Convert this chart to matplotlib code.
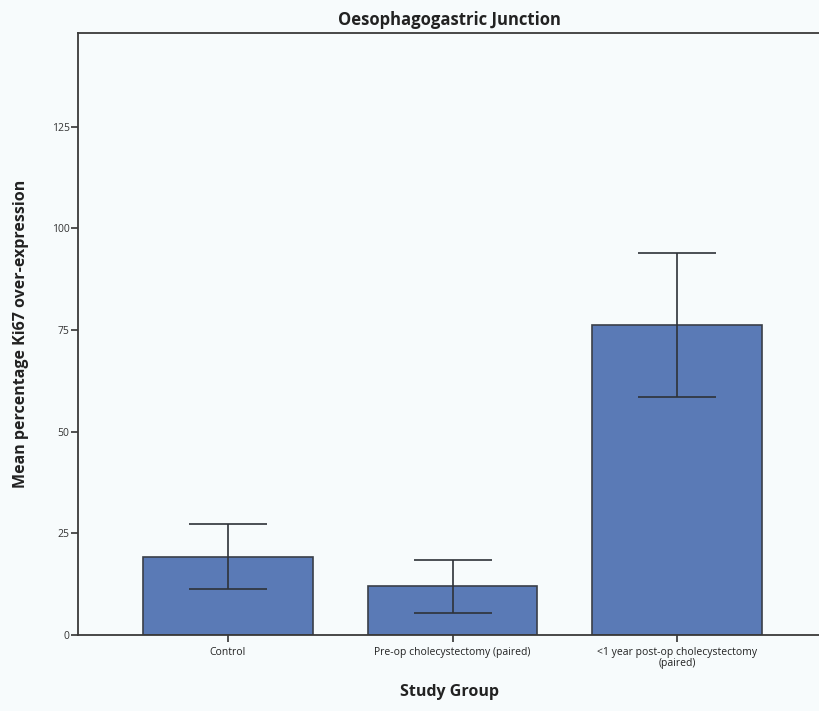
import numpy as np
from matplotlib import pyplot as plt

groups = ['Control', 'Pre-op cholecystectomy (paired)', '<1 year post-op cholecystectomy\n(paired)']
means  = [19.2, 12.0, 76.3]
errs   = [8.0, 6.5, 17.7]
yticks = [0, 25, 50, 75, 100, 125]

plt.rcParams['font.family'] = ['Open Sans', 'DejaVu Sans']

fig = plt.figure(figsize=(8.2, 7.11), dpi=100, facecolor='#f7fbfc')
ax = fig.add_axes([0.0951, 0.1069, 0.905, 0.8467], facecolor='#f7fbfc')

x = np.arange(len(groups))
ax.bar(x, means, width=0.755, color='#5a7ab6', edgecolor='#3a3f48', linewidth=1.2, zorder=2)
ax.errorbar(x, means, yerr=errs, fmt='none', ecolor='#2e3238', elinewidth=1.2,
            capsize=28, capthick=1.2, zorder=3)

ax.set_xlim(-0.668, 2.637)
ax.set_ylim(0, 148)
ax.set_yticks(yticks)
ax.set_yticklabels([str(v) for v in yticks], fontsize=7.5, color='#333333')
ax.set_xticks(x)
ax.set_xticklabels(groups, fontsize=7.5, color='#222222', linespacing=0.9)
ax.tick_params(axis='y', length=5, width=1.2, color='#333333', pad=1)
ax.tick_params(axis='x', length=5, width=1.2, color='#333333', pad=4)

for s in ['left', 'bottom', 'top']:
    ax.spines[s].set_color('#3a3a3a')
    ax.spines[s].set_linewidth(1.3)
ax.spines['right'].set_visible(False)

ax.set_title('Oesophagogastric Junction', fontsize=12, fontweight='bold', color='#222222', pad=6)
ax.set_ylabel('Mean percentage Ki67 over-expression', fontsize=11.5, fontweight='bold',
              color='#222222', labelpad=16)
ax.set_xlabel('Study Group', fontsize=11.5, fontweight='bold', color='#222222', labelpad=11)

fig.savefig('out.png', dpi=100, facecolor=fig.get_facecolor())
